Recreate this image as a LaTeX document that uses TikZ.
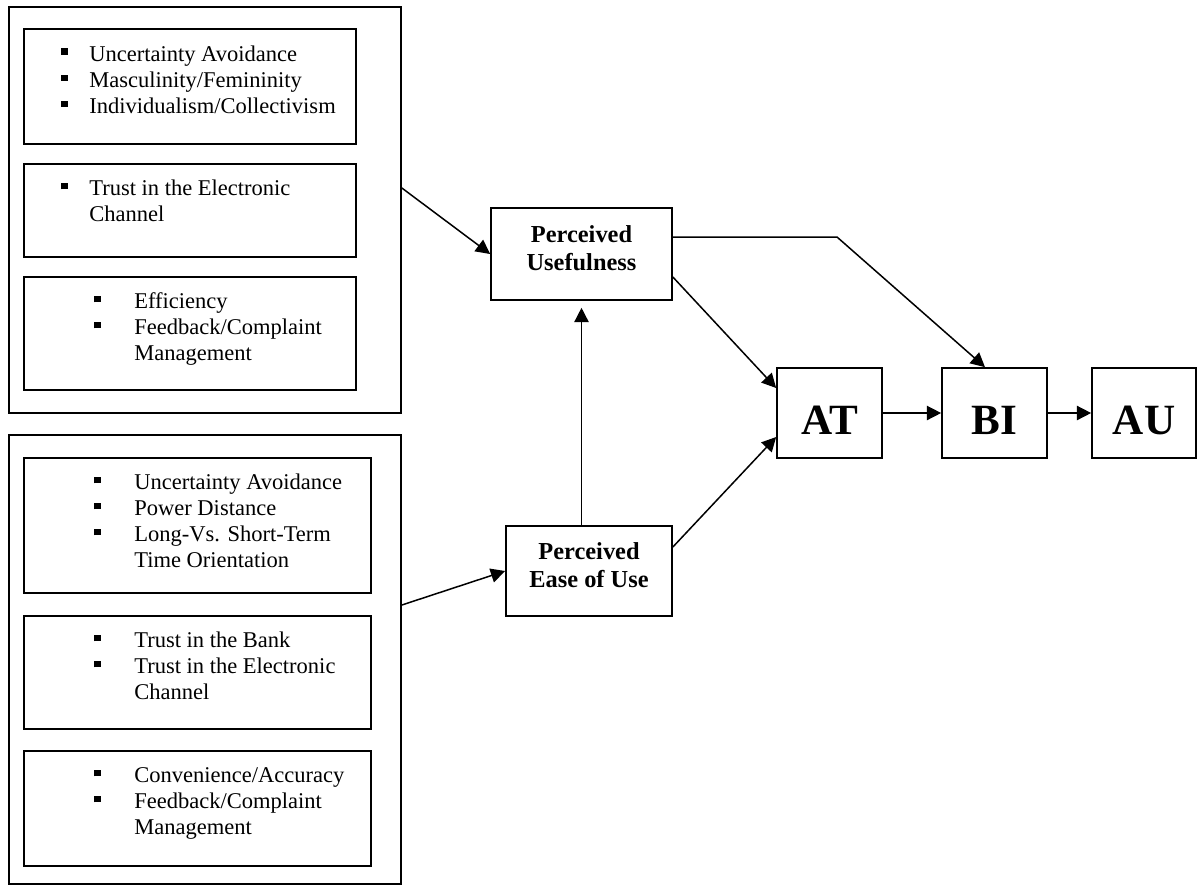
\documentclass[tikz,border=0pt]{standalone}
\usepackage{fontspec}
\setmainfont{Liberation Serif}
\usetikzlibrary{calc}
\usetikzlibrary{arrows.meta}

\newcommand{\sqb}{\rule[3.3pt]{3.4pt}{3.4pt}}
\newcommand{\blist}[2]{\begin{tabular}[t]{@{}p{#1}@{}l@{}}#2\end{tabular}}

\tikzset{
  box/.style={draw, line width=0.9pt, inner sep=0pt},
  wh/.style 2 args={minimum width=#1*0.533pt, minimum height=#2*0.533pt},
  items/.style={anchor=base west, inner sep=0pt, font=\fontsize{12}{13.9}\selectfont},
  construct/.style={box, font=\fontsize{13}{15.4}\selectfont\bfseries, align=center, text depth=6.4pt},
  stage/.style={box, font=\fontsize{23}{27}\selectfont\bfseries, text height=22.4pt, text depth=0pt},
  arr/.style={-{Triangle[length=7.6pt,width=7.6pt]}, line width=0.8pt},
}

\begin{document}
\begin{tikzpicture}[x=0.533pt, y=-0.533pt]
\useasboundingbox (0,0) rectangle (1198,886);

% factor groups
\node[box, wh={392}{406}] (grp1) at (205,210) {};
\node[box, wh={392}{449}] (grp2) at (205,659.5) {};

\node[box, wh={332}{115}] (cul1) at (190,86.5) {};
\node[box, wh={332}{93}]  (tru1) at (190,210.5) {};
\node[box, wh={332}{113}] (qua1) at (190,333.5) {};

\node[box, wh={347}{135}] (cul2) at (197.5,525.5) {};
\node[box, wh={347}{113}] (tru2) at (197.5,672.5) {};
\node[box, wh={347}{115}] (qua2) at (197.5,808.5) {};

\node[items] (cul1t) at (61,61) {\blist{14.9pt}{\sqb & Uncertainty Avoidance\\ \sqb & Masculinity/Femininity\\ \sqb & Individualism/Collectivism}};
\node[items] (tru1t) at (61,195.5) {\blist{14.9pt}{\sqb & Trust in the Electronic\\ & Channel}};
\node[items] (qua1t) at (94,308.5) {\blist{21.3pt}{\sqb & Efficiency\\ \sqb & Feedback/Complaint\\ & Management}};

\node[items] (cul2t) at (94,489.5) {\blist{21.3pt}{\sqb & Uncertainty Avoidance\\ \sqb & Power Distance\\ \sqb & Long-Vs. Short-Term\\ & Time Orientation}};
\node[items] (tru2t) at (94,647.5) {\blist{21.3pt}{\sqb & Trust in the Bank\\ \sqb & Trust in the Electronic\\ & Channel}};
\node[items] (qua2t) at (94,782.5) {\blist{21.3pt}{\sqb & Convenience/Accuracy\\ \sqb & Feedback/Complaint\\ & Management}};

% TAM constructs
\node[construct, wh={181}{92}] (pu) at (581.5,254) {Perceived\\Usefulness};
\node[construct, wh={166}{90}] (peou) at (589,571) {Perceived\\Ease of Use};

\node[stage, wh={105}{90}] (AT) at (829.5,413) {AT};
\node[stage, wh={105}{90}] (BI) at (994.5,413) {BI};
\node[stage, wh={104}{90}] (AU) at (1144,413) {AU};

% paths
\draw[arr] ($(grp1.east)+(0,-22)$) -- (pu.west);
\draw[arr] ($(grp2.east)+(0,-54.5)$) -- (peou.west);
\draw[arr, shorten >=3.7pt] (peou.north -| pu.south) -- (pu.south);
\draw[arr] ($(pu.east)+(0,23)$) -- ($(AT.west)+(0,-25)$);
\draw[arr] ($(peou.east)+(0,-24)$) -- ($(AT.west)+(0,24)$);
\coordinate (bend) at (837,237);
\draw[arr] (pu.east |- bend) -- (bend) -- ($(BI.north)+(-9.5,0)$);
\draw[arr] (AT) -- (BI);
\draw[arr] (BI) -- (AU);

\end{tikzpicture}
\end{document}
